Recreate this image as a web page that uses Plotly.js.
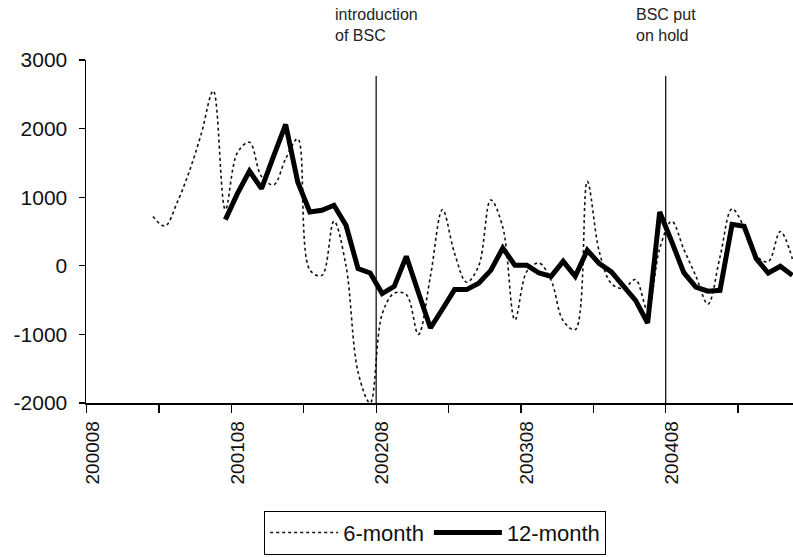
<!DOCTYPE html>
<html>
<head>
<meta charset="utf-8">
<script src="https://cdn.plot.ly/plotly-3.0.1.min.js"></script>
<style>html,body{margin:0;padding:0;background:#fff;}#chart{width:793px;height:557px;}</style>
</head>
<body>
<div id="chart"></div>
<script>
// Months (YYYYMM), one per category
const months = [
  '200008','200009','200010','200011','200012',
  '200101','200102','200103','200104','200105','200106','200107','200108','200109','200110','200111','200112',
  '200201','200202','200203','200204','200205','200206','200207','200208','200209','200210','200211','200212',
  '200301','200302','200303','200304','200305','200306','200307','200308','200309','200310','200311','200312',
  '200401','200402','200403','200404','200405','200406','200407','200408','200409','200410','200411','200412',
  '200501','200502','200503','200504','200505','200506'
];

// 6-month series (starts 200101)
const sixMonth = [
  null, null, null, null, null,
  720, 580, 920, 1370, 1920, 2550, 820, 1650, 1800, 1300, 1180, 1560,
  1850, -60, -140, 650, 0, -1550, -2000, -700, -400, -420, -1000, -150,
  820, 180, -240, 0, 960, 560, -790, -80, 40, -210, -800, -930,
  1230, 200, -260, -330, -200, -650, 250, 650, 240, -150, -560, 130,
  830, 560, 150, 60, 500, 100
];

// 12-month series (starts 200107)
const twelveMonth = [
  null, null, null, null, null,
  null, null, null, null, null, null, 673, 1052, 1382, 1125, 1600, 2060,
  1222, 784, 809, 882, 590, -41, -105, -405, -299, 138, -390, -907,
  -630, -347, -347, -255, -66, 260, 7, 7, -105, -153, 65, -153,
  226, 32, -90, -284, -503, -834, 784, 350, -100, -309, -370, -357,
  605, 576, 105, -105, -7, -139
];

const seriesNames = ['6-month', '12-month'];
const labelMonths = ['200008', '200108', '200208', '200308', '200408'];
const eventMonths = ['200208', '200408'];
const eventLabels = ['introduction<br>of BSC', 'BSC put<br>on hold'];
const yTicks = [-2000, -1000, 0, 1000, 2000, 3000];

const xIdx = months.map((m, i) => i);
const labelIdx = labelMonths.map(m => months.indexOf(m));
const boundaries = [];
for (let i = 0; i <= months.length; i += 6) boundaries.push(i - 0.5);
const eventIdx = eventMonths.map(m => months.indexOf(m) - 0.5);

const FONT = 'Liberation Sans, Arial, sans-serif';

const traces = [
  {
    x: xIdx, y: sixMonth, name: seriesNames[0], type: 'scatter', mode: 'lines',
    line: {color: '#111', width: 1.6, dash: '3px,3px', shape: 'spline', smoothing: 1},
    connectgaps: false
  },
  {
    x: xIdx, y: twelveMonth, name: seriesNames[1], type: 'scatter', mode: 'lines',
    line: {color: '#000', width: 5, shape: 'linear'},
    connectgaps: false
  }
];

const shapes = eventIdx.map(x => ({
  type: 'line', xref: 'x', yref: 'paper', x0: x, x1: x, y0: 0, y1: 0.953,
  line: {color: '#000', width: 1.2}
}));

const annotations = eventIdx.map((x, i) => ({
  xref: 'x', yref: 'paper', x: x, y: 1.04, xanchor: 'center', yanchor: 'bottom',
  align: 'left', showarrow: false, text: eventLabels[i],
  font: {family: FONT, size: 16, color: '#222'}
}));

const layout = {
  width: 793, height: 557,
  margin: {l: 86, r: 0, t: 60, b: 154, pad: 0},
  paper_bgcolor: '#fff', plot_bgcolor: '#fff',
  font: {family: FONT, color: '#111'},
  showlegend: true,
  legend: {
    orientation: 'h', x: 0.252, y: -0.314, xanchor: 'left', yanchor: 'top',
    bordercolor: '#000', borderwidth: 1, bgcolor: '#fff',
    font: {family: FONT, size: 22, color: '#111'},
    itemwidth: 68, traceorder: 'normal'
  },
  xaxis: {
    range: [-0.55, 58.05], showgrid: false, zeroline: false,
    showline: true, linecolor: '#000', linewidth: 1.5,
    tickmode: 'array', tickvals: labelIdx, ticktext: labelMonths,
    ticks: 'outside', ticklen: 9, tickcolor: 'rgba(0,0,0,0)', tickangle: -90,
    tickfont: {family: FONT, size: 19, color: '#111'},
    minor: {tickmode: 'array', tickvals: boundaries, ticks: 'outside', ticklen: 8, tickwidth: 1.2, tickcolor: '#000', showgrid: false}
  },
  yaxis: {
    range: [-2000, 3000], showgrid: false, zeroline: false,
    showline: true, linecolor: '#000', linewidth: 1.5,
    tickmode: 'array', tickvals: yTicks, ticktext: yTicks.map(String),
    ticks: 'outside', ticklen: 6, tickwidth: 1.2, tickcolor: '#000',
    ticklabelstandoff: 7,
    tickfont: {family: FONT, size: 21, color: '#111'}
  },
  shapes: shapes,
  annotations: annotations
};

Plotly.newPlot('chart', traces, layout, {displayModeBar: false, staticPlot: true});
</script>
</body>
</html>
